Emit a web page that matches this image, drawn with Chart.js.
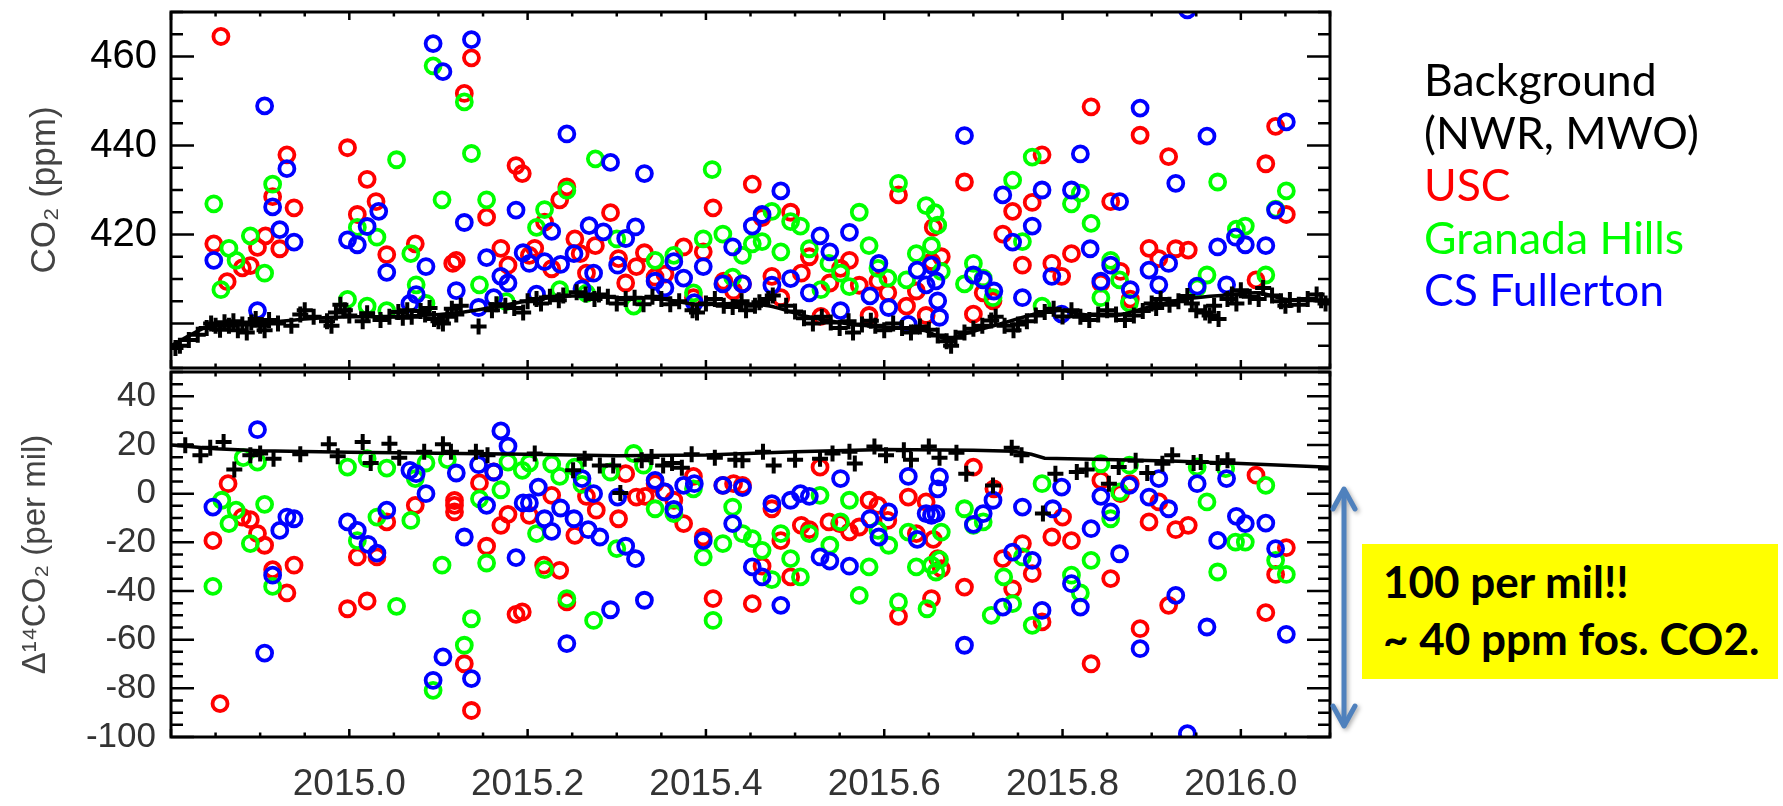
<!DOCTYPE html>
<html>
<head>
<meta charset="utf-8">
<script src="https://cdn.jsdelivr.net/npm/chart.js@4.4.1/dist/chart.umd.min.js"></script>
<style>
  body { margin: 0; background: #fff; width: 1783px; height: 806px; overflow: hidden; position: relative; }
  canvas { position: absolute; left: 0; }
  #co2chart { top: 0; }
  #d14chart { top: 360px; }
  #legend { position: absolute; left: 1424px; top: 53px; font-family: Lato, sans-serif; font-size: 44.5px; line-height: 52.5px; white-space: nowrap; }
  #note { position: absolute; left: 1362px; top: 544px; width: 395px; height: 126px; background: #ffff00; padding: 9px 0 0 21px;
          font-family: Lato, sans-serif; font-weight: bold; font-size: 44px; line-height: 57px; white-space: nowrap; }
  svg.arrow { position: absolute; left: 1320px; top: 478px; filter: drop-shadow(2px 2px 2px rgba(0,0,0,0.3)); }
</style>
</head>
<body>
<canvas id="co2chart" width="1783" height="380"></canvas>
<canvas id="d14chart" width="1783" height="446"></canvas>
<div id="legend"></div>
<div id="note">100 per mil!!<br>~ 40 ppm fos. CO2.</div>
<svg class="arrow" width="50" height="262">
  <g stroke="#4f81bd" stroke-width="5" fill="none" stroke-linecap="round" stroke-linejoin="round">
    <line x1="24" y1="12" x2="24" y2="247"/>
    <polyline points="13,31 24,11 35,31"/>
    <polyline points="13,228 24,248 35,228"/>
  </g>
</svg>
<script>
//---data---//

var seriesNames = ['Background\n(NWR, MWO)', 'USC', 'Granada Hills', 'CS Fullerton'];
var seriesColors = ['#000000', '#ff0000', '#00ff00', '#0000ff'];

var xTickLabels = [2015.0, 2015.2, 2015.4, 2015.6, 2015.8, 2016.0];
var co2TickLabels = [420, 440, 460];
var d14TickLabels = [-100, -80, -60, -40, -20, 0, 20, 40];

// CO2 (ppm), top panel
var bgCO2 = [[2014.805,394.5],[2014.81,395.0],[2014.82,396.3],[2014.83,397.5],[2014.84,399.0],[2014.845,400.0],[2014.85,399.5],[2014.855,398.6],[2014.86,400.3],[2014.865,399.5],[2014.87,400.5],[2014.875,398.5],[2014.88,399.8],[2014.885,398.0],[2014.89,400.2],[2014.895,401.0],[2014.90,399.5],[2014.905,398.5],[2014.91,400.8],[2014.92,400.0],[2014.935,399.5],[2014.945,402.0],[2014.95,403.0],[2014.96,401.5],[2014.975,400.5],[2014.98,399.5],[2014.985,402.5],[2014.99,404.2],[2014.995,403.0],[2015.00,401.8],[2015.015,400.5],[2015.02,402.3],[2015.035,400.8],[2015.045,401.5],[2015.055,402.6],[2015.06,401.3],[2015.065,403.0],[2015.07,401.5],[2015.08,402.8],[2015.085,402.0],[2015.09,403.5],[2015.095,401.0],[2015.10,400.5],[2015.105,400.0],[2015.11,401.5],[2015.115,403.3],[2015.12,402.0],[2015.125,404.0],[2015.145,399.3],[2015.16,403.0],[2015.165,404.3],[2015.175,404.0],[2015.185,403.5],[2015.195,402.5],[2015.20,405.0],[2015.21,405.5],[2015.215,404.5],[2015.225,406.0],[2015.235,405.2],[2015.24,406.3],[2015.255,407.0],[2015.265,406.5],[2015.275,405.5],[2015.28,406.5],[2015.29,406.0],[2015.30,404.5],[2015.31,405.5],[2015.32,405.8],[2015.33,404.3],[2015.34,406.0],[2015.35,405.5],[2015.36,404.3],[2015.37,405.0],[2015.385,403.0],[2015.39,402.5],[2015.40,404.5],[2015.41,405.5],[2015.42,404.0],[2015.43,403.7],[2015.44,405.0],[2015.445,403.0],[2015.455,404.0],[2015.46,404.8],[2015.47,405.5],[2015.475,406.3],[2015.49,404.0],[2015.50,402.7],[2015.51,401.2],[2015.52,400.0],[2015.53,401.5],[2015.54,400.2],[2015.55,399.0],[2015.56,400.5],[2015.565,398.0],[2015.575,399.8],[2015.585,400.6],[2015.59,399.5],[2015.60,398.5],[2015.61,400.0],[2015.62,399.0],[2015.63,398.0],[2015.64,399.3],[2015.65,398.6],[2015.66,397.3],[2015.67,396.0],[2015.675,395.0],[2015.68,396.8],[2015.69,398.0],[2015.70,398.8],[2015.71,399.5],[2015.72,400.7],[2015.725,401.5],[2015.735,399.5],[2015.745,398.5],[2015.75,399.8],[2015.76,400.5],[2015.77,401.8],[2015.78,402.6],[2015.79,403.3],[2015.80,401.6],[2015.81,403.0],[2015.82,401.5],[2015.83,400.8],[2015.84,402.0],[2015.85,403.0],[2015.86,402.0],[2015.87,400.8],[2015.88,401.8],[2015.89,402.8],[2015.90,404.5],[2015.905,403.5],[2015.91,405.5],[2015.92,404.2],[2015.93,405.0],[2015.94,406.2],[2015.945,404.5],[2015.95,403.0],[2015.96,402.5],[2015.965,401.8],[2015.97,404.0],[2015.975,401.0],[2015.985,405.5],[2015.99,406.5],[2015.995,404.5],[2016.00,407.5],[2016.01,406.0],[2016.02,405.5],[2016.025,408.0],[2016.035,406.3],[2016.045,405.0],[2016.05,404.0],[2016.055,405.3],[2016.065,404.2],[2016.075,405.5],[2016.085,406.5],[2016.09,405.2],[2016.095,404.5]];
var bgCO2Fit = [[2014.80,395.0],[2014.84,399.2],[2014.87,399.8],[2014.91,400.2],[2014.95,401.0],[2015.00,401.5],[2015.04,401.5],[2015.08,401.8],[2015.125,402.5],[2015.17,404.0],[2015.21,405.4],[2015.25,406.2],[2015.30,405.8],[2015.345,405.7],[2015.39,404.3],[2015.43,404.5],[2015.47,404.0],[2015.515,401.5],[2015.56,399.9],[2015.60,399.2],[2015.645,398.4],[2015.67,396.5],[2015.69,397.7],[2015.73,399.9],[2015.775,402.4],[2015.80,402.9],[2015.82,402.1],[2015.86,401.8],[2015.90,403.9],[2015.94,405.6],[2015.99,406.5],[2016.02,406.9],[2016.05,405.4],[2016.10,405.1]];
var uscCO2 = [[2014.848,417.9],[2014.856,464.5],[2014.863,409.4],[2014.880,412.5],[2014.889,413.0],[2014.897,417.1],[2014.906,419.7],[2014.914,428.5],[2014.922,416.8],[2014.930,437.9],[2014.938,426.0],[2014.998,439.5],[2015.009,424.5],[2015.020,432.4],[2015.030,427.4],[2015.042,415.5],[2015.074,417.9],[2015.116,413.5],[2015.120,414.2],[2015.129,451.7],[2015.137,459.7],[2015.154,423.9],[2015.170,416.9],[2015.178,413.1],[2015.187,435.5],[2015.194,433.7],[2015.202,415.3],[2015.208,416.9],[2015.219,422.8],[2015.227,412.3],[2015.236,427.8],[2015.244,430.7],[2015.253,419.0],[2015.259,415.7],[2015.266,411.3],[2015.276,417.5],[2015.293,424.9],[2015.302,414.6],[2015.310,409.1],[2015.322,412.8],[2015.331,415.9],[2015.343,410.4],[2015.354,411.1],[2015.375,417.2],[2015.386,405.8],[2015.397,416.1],[2015.408,426.0],[2015.420,409.5],[2015.431,407.3],[2015.441,408.9],[2015.452,431.3],[2015.463,423.8],[2015.474,410.6],[2015.484,405.8],[2015.495,425.0],[2015.507,411.3],[2015.516,415.0],[2015.529,401.6],[2015.539,409.1],[2015.551,412.4],[2015.561,414.2],[2015.572,408.6],[2015.583,401.8],[2015.593,409.5],[2015.604,406.9],[2015.616,428.9],[2015.625,403.9],[2015.636,407.3],[2015.647,401.8],[2015.653,413.9],[2015.655,421.6],[2015.664,415.0],[2015.690,431.8],[2015.700,402.1],[2015.711,406.9],[2015.722,405.1],[2015.733,420.1],[2015.744,425.2],[2015.755,413.1],[2015.766,427.2],[2015.777,437.9],[2015.788,413.5],[2015.799,410.6],[2015.810,415.7],[2015.832,448.7],[2015.843,409.1],[2015.854,427.4],[2015.865,411.7],[2015.876,405.5],[2015.887,442.3],[2015.897,416.9],[2015.908,414.6],[2015.919,437.5],[2015.927,416.8],[2015.941,416.5],[2016.017,409.8],[2016.028,435.9],[2016.039,444.3],[2016.051,424.5]];
var granadaCO2 = [[2014.848,426.9],[2014.856,407.6],[2014.865,416.9],[2014.873,414.2],[2014.889,419.7],[2014.905,411.3],[2014.914,431.3],[2014.998,405.4],[2015.009,421.6],[2015.020,403.9],[2015.031,419.4],[2015.042,402.9],[2015.053,436.8],[2015.069,415.7],[2015.075,408.7],[2015.086,404.5],[2015.094,457.9],[2015.104,427.8],[2015.129,449.8],[2015.137,438.2],[2015.146,408.7],[2015.154,427.8],[2015.176,404.9],[2015.210,421.6],[2015.219,425.6],[2015.236,407.6],[2015.244,429.9],[2015.266,406.8],[2015.276,437.0],[2015.300,419.0],[2015.319,403.9],[2015.343,414.2],[2015.364,415.3],[2015.386,406.9],[2015.397,419.0],[2015.407,434.6],[2015.419,420.1],[2015.430,410.4],[2015.441,415.3],[2015.452,417.9],[2015.463,418.4],[2015.474,425.2],[2015.484,416.1],[2015.495,422.9],[2015.506,421.9],[2015.516,416.8],[2015.529,407.6],[2015.538,413.5],[2015.551,411.3],[2015.561,408.3],[2015.572,425.0],[2015.583,417.5],[2015.593,412.4],[2015.604,410.2],[2015.616,431.5],[2015.625,409.8],[2015.636,415.7],[2015.647,426.5],[2015.653,417.5],[2015.657,424.9],[2015.660,422.1],[2015.664,411.7],[2015.690,408.9],[2015.700,413.5],[2015.711,410.2],[2015.722,405.8],[2015.744,432.2],[2015.755,418.4],[2015.766,437.4],[2015.777,403.9],[2015.810,426.9],[2015.820,429.3],[2015.832,422.5],[2015.843,405.8],[2015.854,414.2],[2015.864,409.8],[2015.875,404.6],[2015.951,408.0],[2015.962,410.9],[2015.974,431.8],[2015.995,421.2],[2016.005,421.9],[2016.028,410.9],[2016.039,425.7],[2016.051,429.8]];
var fullertonCO2 = [[2014.848,414.2],[2014.897,402.9],[2014.905,448.9],[2014.914,426.2],[2014.922,421.1],[2014.930,434.8],[2014.938,418.3],[2014.998,418.8],[2015.009,417.7],[2015.020,421.8],[2015.033,425.2],[2015.042,411.5],[2015.068,404.5],[2015.075,406.5],[2015.086,412.8],[2015.094,462.9],[2015.105,456.6],[2015.120,407.4],[2015.129,422.7],[2015.137,463.8],[2015.145,403.6],[2015.154,414.8],[2015.162,405.8],[2015.170,410.6],[2015.178,409.1],[2015.187,425.5],[2015.195,415.9],[2015.202,413.5],[2015.210,406.6],[2015.219,413.9],[2015.227,420.7],[2015.237,413.3],[2015.244,442.6],[2015.252,415.7],[2015.261,407.8],[2015.269,422.0],[2015.274,411.3],[2015.285,420.6],[2015.293,436.2],[2015.301,413.1],[2015.310,419.1],[2015.321,421.7],[2015.331,433.7],[2015.343,409.5],[2015.354,408.0],[2015.364,413.9],[2015.375,410.2],[2015.387,404.7],[2015.397,412.8],[2015.419,408.9],[2015.430,417.2],[2015.441,408.9],[2015.452,421.9],[2015.463,424.5],[2015.474,408.6],[2015.484,429.8],[2015.495,410.1],[2015.516,406.9],[2015.528,419.7],[2015.539,416.1],[2015.551,402.9],[2015.561,420.5],[2015.584,406.2],[2015.594,413.5],[2015.605,403.6],[2015.627,399.8],[2015.637,412.0],[2015.647,408.7],[2015.653,413.1],[2015.658,409.6],[2015.660,405.1],[2015.662,401.4],[2015.690,442.2],[2015.700,410.9],[2015.711,409.8],[2015.723,407.3],[2015.733,428.9],[2015.744,418.3],[2015.755,405.8],[2015.766,421.9],[2015.777,430.0],[2015.788,410.6],[2015.799,402.1],[2015.810,430.0],[2015.820,438.1],[2015.831,416.8],[2015.843,409.5],[2015.854,413.1],[2015.864,427.4],[2015.876,407.6],[2015.887,448.4],[2015.897,412.0],[2015.908,408.7],[2015.919,413.5],[2015.927,431.5],[2015.940,470.5],[2015.951,408.4],[2015.962,442.1],[2015.974,417.2],[2015.984,408.7],[2015.994,419.4],[2016.005,417.7],[2016.028,417.5],[2016.039,425.5],[2016.051,445.3]];

// Delta 14CO2 (per mil), bottom panel
var bgD14 = [[2014.816,19.9],[2014.833,15.8],[2014.844,18.9],[2014.859,21.2],[2014.871,9.9],[2014.889,15.8],[2014.900,16.5],[2014.915,14.4],[2014.945,16.2],[2014.977,20.3],[2014.987,15.4],[2015.015,21.2],[2015.024,12.6],[2015.045,20.5],[2015.056,14.8],[2015.084,17.2],[2015.105,20.3],[2015.114,17.2],[2015.142,17.2],[2015.155,15.8],[2015.208,16.5],[2015.251,9.6],[2015.264,14.4],[2015.281,11.6],[2015.296,11.6],[2015.304,0.3],[2015.328,13.7],[2015.339,15.1],[2015.352,11.6],[2015.362,12.6],[2015.373,10.6],[2015.384,16.2],[2015.41,14.8],[2015.433,13.9],[2015.441,13.7],[2015.464,17.2],[2015.476,11.6],[2015.50,13.9],[2015.528,14.4],[2015.542,16.5],[2015.561,17.2],[2015.567,12.4],[2015.589,19.4],[2015.602,15.8],[2015.622,17.8],[2015.630,13.9],[2015.650,19.4],[2015.662,14.8],[2015.681,16.8],[2015.692,8.2],[2015.722,3.4],[2015.743,18.9],[2015.754,15.8],[2015.778,-8.2],[2015.792,8.2],[2015.816,8.9],[2015.827,9.9],[2015.852,4.1],[2015.863,11.0],[2015.882,13.5],[2015.895,8.5],[2015.912,12.3],[2015.923,15.8],[2015.947,12.6],[2015.955,13.0],[2015.974,12.6],[2015.985,13.7]];
var bgD14Fit = [[2014.80,20.0],[2014.85,18.5],[2014.90,17.6],[2015.00,17.0],[2015.10,16.6],[2015.20,16.2],[2015.30,15.6],[2015.40,15.9],[2015.50,17.2],[2015.60,18.1],[2015.70,17.8],[2015.745,17.4],[2015.765,16.2],[2015.78,14.6],[2015.86,13.9],[2015.93,13.3],[2016.00,12.4],[2016.10,10.9]];
var uscD14 = [[2014.847,-19.3],[2014.855,-86.3],[2014.864,4.1],[2014.880,-9.6],[2014.889,-10.7],[2014.897,-16.4],[2014.905,-21.2],[2014.914,-31.2],[2014.930,-40.8],[2014.938,-29.4],[2014.998,-47.3],[2015.009,-26.0],[2015.020,-44.1],[2015.031,-26.0],[2015.042,-11.6],[2015.074,-4.8],[2015.118,-2.8],[2015.118,-4.8],[2015.118,-7.5],[2015.129,-69.9],[2015.137,-89.1],[2015.146,4.4],[2015.154,-21.6],[2015.162,8.9],[2015.170,-13.0],[2015.178,-8.5],[2015.187,-49.6],[2015.194,-48.6],[2015.202,-8.9],[2015.218,-29.4],[2015.227,-0.7],[2015.236,-31.5],[2015.244,-44.5],[2015.253,-17.1],[2015.266,-1.1],[2015.277,-6.8],[2015.302,-10.3],[2015.310,8.2],[2015.322,-1.4],[2015.332,-1.1],[2015.343,4.1],[2015.353,0.7],[2015.364,-2.7],[2015.375,-12.3],[2015.386,7.1],[2015.397,-17.8],[2015.408,-43.1],[2015.419,3.4],[2015.431,4.1],[2015.441,3.4],[2015.452,-45.2],[2015.463,-29.8],[2015.474,-6.2],[2015.484,-19.3],[2015.495,-34.2],[2015.507,-13.0],[2015.516,-14.8],[2015.528,10.9],[2015.538,-11.6],[2015.550,-12.3],[2015.561,-15.7],[2015.572,-13.7],[2015.583,-2.7],[2015.593,-4.8],[2015.604,-11.0],[2015.616,-50.4],[2015.627,-1.4],[2015.636,-16.4],[2015.647,-3.4],[2015.653,-43.1],[2015.655,-18.8],[2015.660,-26.7],[2015.664,-30.8],[2015.690,-38.4],[2015.700,10.9],[2015.723,2.0],[2015.733,-26.7],[2015.744,-39.1],[2015.755,-20.5],[2015.766,-32.9],[2015.777,-52.7],[2015.788,-17.8],[2015.800,-9.6],[2015.810,-19.3],[2015.832,-69.9],[2015.843,5.5],[2015.854,-34.9],[2015.865,0.0],[2015.876,4.1],[2015.887,-55.5],[2015.897,-11.6],[2015.908,-3.4],[2015.919,-45.9],[2015.927,-14.8],[2015.941,-13.0],[2016.017,7.6],[2016.028,-48.9],[2016.039,-33.2],[2016.051,-22.2]];
var granadaD14 = [[2014.847,-38.1],[2014.857,-2.7],[2014.865,-12.3],[2014.873,-6.8],[2014.881,14.8],[2014.889,-20.5],[2014.897,13.0],[2014.905,-4.4],[2014.914,-38.1],[2014.998,10.9],[2015.009,-19.3],[2015.020,14.4],[2015.031,-9.6],[2015.042,10.5],[2015.053,-46.3],[2015.069,-11.0],[2015.074,6.2],[2015.086,12.6],[2015.094,-80.8],[2015.104,-29.4],[2015.110,14.0],[2015.129,-62.3],[2015.137,-51.4],[2015.146,-2.1],[2015.154,-28.5],[2015.170,1.6],[2015.178,13.0],[2015.194,9.6],[2015.202,12.6],[2015.210,-16.4],[2015.219,-31.2],[2015.227,12.1],[2015.236,7.1],[2015.244,-43.1],[2015.253,10.9],[2015.261,3.8],[2015.274,-52.1],[2015.293,8.9],[2015.300,-22.6],[2015.319,16.5],[2015.330,11.7],[2015.343,-6.2],[2015.364,-8.2],[2015.386,2.0],[2015.397,-26.0],[2015.408,-52.1],[2015.419,-20.5],[2015.430,-5.5],[2015.441,-16.4],[2015.452,-18.5],[2015.463,-23.3],[2015.474,-35.3],[2015.484,-16.4],[2015.495,-26.7],[2015.506,-34.2],[2015.516,-16.4],[2015.528,-0.7],[2015.539,-21.2],[2015.551,-11.6],[2015.561,-2.7],[2015.572,-41.8],[2015.583,-30.1],[2015.593,-15.1],[2015.605,-21.2],[2015.616,-44.5],[2015.627,-15.8],[2015.636,-30.1],[2015.648,-47.3],[2015.653,-29.4],[2015.658,-32.2],[2015.662,-27.1],[2015.664,-15.8],[2015.690,-6.2],[2015.700,-13.0],[2015.711,-11.6],[2015.720,-50.0],[2015.734,-34.2],[2015.744,-45.2],[2015.755,-26.0],[2015.766,-54.1],[2015.777,4.1],[2015.810,-33.5],[2015.820,-40.8],[2015.832,-27.4],[2015.843,12.3],[2015.854,-10.3],[2015.864,0.7],[2015.875,11.7],[2015.951,11.0],[2015.962,-3.4],[2015.974,-32.2],[2015.983,10.3],[2015.994,-19.9],[2016.005,-19.9],[2016.028,3.4],[2016.039,-27.4],[2016.051,-33.2]];
var fullertonD14 = [[2014.847,-5.5],[2014.897,26.3],[2014.905,-65.5],[2014.914,-33.5],[2014.922,-15.1],[2014.930,-9.6],[2014.938,-10.3],[2014.998,-11.6],[2015.009,-15.1],[2015.021,-20.8],[2015.031,-24.4],[2015.042,-6.8],[2015.068,9.6],[2015.075,8.2],[2015.086,0.0],[2015.094,-76.7],[2015.105,-67.1],[2015.120,8.5],[2015.129,-17.8],[2015.137,-76.0],[2015.145,11.9],[2015.154,-4.8],[2015.162,8.9],[2015.170,25.8],[2015.178,19.5],[2015.187,-26.3],[2015.195,-3.8],[2015.202,-3.8],[2015.212,2.7],[2015.219,-10.3],[2015.227,-15.5],[2015.237,-5.9],[2015.244,-61.6],[2015.252,-10.3],[2015.261,6.2],[2015.268,-14.8],[2015.274,0.0],[2015.281,-17.8],[2015.293,-47.7],[2015.301,-1.4],[2015.310,-21.6],[2015.321,-26.7],[2015.331,-43.8],[2015.343,5.5],[2015.354,0.7],[2015.364,-6.5],[2015.375,3.4],[2015.387,4.1],[2015.397,-19.3],[2015.419,3.4],[2015.430,-12.3],[2015.441,2.5],[2015.452,-30.1],[2015.463,-34.2],[2015.474,-4.1],[2015.484,-45.9],[2015.495,-2.7],[2015.506,0.0],[2015.516,-1.1],[2015.528,-26.0],[2015.539,-27.7],[2015.551,6.2],[2015.561,-29.8],[2015.584,-10.3],[2015.594,-17.8],[2015.605,-7.5],[2015.627,7.1],[2015.637,-18.8],[2015.647,-8.2],[2015.653,-8.9],[2015.658,-8.2],[2015.660,2.0],[2015.662,6.9],[2015.690,-62.3],[2015.700,-12.6],[2015.711,-8.2],[2015.722,-2.7],[2015.733,-46.6],[2015.744,-24.0],[2015.755,-5.5],[2015.766,-27.4],[2015.777,-48.0],[2015.789,-6.2],[2015.799,2.7],[2015.810,-37.0],[2015.820,-46.6],[2015.832,-14.4],[2015.843,-1.1],[2015.854,-7.5],[2015.864,-24.7],[2015.875,3.4],[2015.887,-63.7],[2015.897,-1.4],[2015.908,6.2],[2015.919,-6.2],[2015.927,-41.8],[2015.940,-98.6],[2015.951,4.1],[2015.962,-54.8],[2015.974,-19.2],[2015.984,6.2],[2015.995,-9.3],[2016.005,-12.3],[2016.028,-12.1],[2016.039,-22.6],[2016.051,-57.8]];

//---legend---//

var legendDiv = document.getElementById('legend');
seriesNames.forEach(function(name, i) {
  name.split('\n').forEach(function(line) {
    var d = document.createElement('div');
    d.textContent = line;
    d.style.color = seriesColors[i];
    legendDiv.appendChild(d);
  });
});

//---helpers---//

function toXY(pts) {
  return pts.map(p => ({x: p[0], y: p[1]}));
}

function circles(label, pts, color) {
  return {
    label: label,
    data: toXY(pts),
    showLine: false,
    pointStyle: 'circle',
    pointRadius: 7.5,
    pointBorderWidth: 3.8,
    pointBorderColor: color,
    pointBackgroundColor: 'rgba(0,0,0,0)',
    borderColor: color
  };
}

function crosses(label, pts) {
  return {
    label: label,
    data: toXY(pts),
    showLine: false,
    pointStyle: 'cross',
    pointRadius: 8,
    pointBorderWidth: 4,
    pointBorderColor: '#000',
    borderColor: '#000'
  };
}

function fitLine(pts, tension) {
  return {
    type: 'line',
    label: 'fit',
    data: toXY(pts),
    borderColor: '#000',
    borderWidth: 3.5,
    pointRadius: 0,
    tension: tension,
    fill: false
  };
}

// keep the y axis a fixed width and stop it from padding the chart area
function fixYAxis(s) {
  s.width = 171;
  s.paddingTop = 0;
  s.paddingBottom = 0;
}

// IDL style frame: box on all four sides with ticks pointing inwards
var idlFrame = {
  id: 'idlFrame',
  afterDatasetsDraw(chart, args, opts) {
    const {ctx, chartArea: a, scales: {x, y}} = chart;
    ctx.save();
    ctx.strokeStyle = '#000';
    ctx.lineWidth = 2.5;
    ctx.beginPath();
    for (var i = 0; i <= 26; i++) {
      var px = x.getPixelForValue(2014.8 + i * 0.05);
      var len = (i % 4 == 0) ? 8 : 4.5;
      ctx.moveTo(px, a.bottom); ctx.lineTo(px, a.bottom - len);
      ctx.moveTo(px, a.top); ctx.lineTo(px, a.top + len);
    }
    for (var v = opts.yMin; v <= opts.yMax; v += 5) {
      var py = y.getPixelForValue(v);
      var ylen = (v % 20 == 0) ? 23 : 12;
      ctx.moveTo(a.left, py); ctx.lineTo(a.left + ylen, py);
      ctx.moveTo(a.right, py); ctx.lineTo(a.right - ylen, py);
    }
    ctx.stroke();
    ctx.lineWidth = 3;
    ctx.strokeRect(a.left, a.top, a.right - a.left, a.bottom - a.top);
    ctx.restore();
  }
};

//---panneau-co2---//

var config = {
  type: 'scatter',
  data: {
    datasets: [
      fitLine(bgCO2Fit, 0.3),
      crosses(seriesNames[0], bgCO2),
      circles(seriesNames[3], fullertonCO2, seriesColors[3]),
      circles(seriesNames[2], granadaCO2, seriesColors[2]),
      circles(seriesNames[1], uscCO2, seriesColors[1])
    ]
  },
  options: {
    responsive: false,
    animation: false,
    devicePixelRatio: 1,
    layout: {padding: {left: 0, top: 8, right: 453, bottom: 8}},
    scales: {
      x: {type: 'linear', min: 2014.8, max: 2016.1, display: false},
      y: {
        type: 'linear', min: 390, max: 470,
        grid: {display: false, drawTicks: false},
        border: {display: false},
        afterBuildTicks: s => { s.ticks = co2TickLabels.map(v => ({value: v})); },
        afterFit: fixYAxis,
        ticks: {padding: 14, color: '#000', font: {family: 'Liberation Sans', size: 40}},
        title: {display: true, text: 'CO₂ (ppm)', color: '#444', font: {family: 'Liberation Sans', size: 35}, padding: {top: 24, bottom: 0}}
      }
    },
    plugins: {
      legend: {display: false},
      tooltip: {enabled: false},
      idlFrame: {yMin: 390, yMax: 470}
    }
  },
  plugins: [idlFrame]
};

var co2ctx = document.getElementById('co2chart').getContext('2d');
var co2chart = new Chart(co2ctx, config);

//---panneau-d14c---//

var config = {
  type: 'scatter',
  data: {
    datasets: [
      fitLine(bgD14Fit, 0),
      crosses(seriesNames[0], bgD14),
      circles(seriesNames[3], fullertonD14, seriesColors[3]),
      circles(seriesNames[2], granadaD14, seriesColors[2]),
      circles(seriesNames[1], uscD14, seriesColors[1])
    ]
  },
  options: {
    responsive: false,
    animation: false,
    devicePixelRatio: 1,
    layout: {padding: {left: 0, top: 12, right: 453, bottom: 0}},
    scales: {
      x: {
        type: 'linear', min: 2014.8, max: 2016.1,
        grid: {display: false, drawTicks: false},
        border: {display: false},
        afterBuildTicks: s => { s.ticks = xTickLabels.map(v => ({value: v})); },
        afterFit: s => { s.height = 69; s.paddingLeft = 0; s.paddingRight = 0; },
        ticks: {padding: 26, color: '#333', font: {family: 'Liberation Sans', size: 37}, maxRotation: 0, autoSkip: false, callback: v => v.toFixed(1)}
      },
      y: {
        type: 'linear', min: -100, max: 50,
        grid: {display: false, drawTicks: false},
        border: {display: false},
        afterBuildTicks: s => { s.ticks = d14TickLabels.map(v => ({value: v})); },
        afterFit: fixYAxis,
        ticks: {padding: 15, color: '#333', font: {family: 'Liberation Sans', size: 35}},
        title: {display: true, text: 'Δ¹⁴CO₂ (per mil)', color: '#444', font: {family: 'Liberation Sans', size: 33}, padding: {top: 16, bottom: 0}}
      }
    },
    plugins: {
      legend: {display: false},
      tooltip: {enabled: false},
      idlFrame: {yMin: -100, yMax: 50}
    }
  },
  plugins: [idlFrame]
};

var d14ctx = document.getElementById('d14chart').getContext('2d');
var d14chart = new Chart(d14ctx, config);
</script>
</body>
</html>
